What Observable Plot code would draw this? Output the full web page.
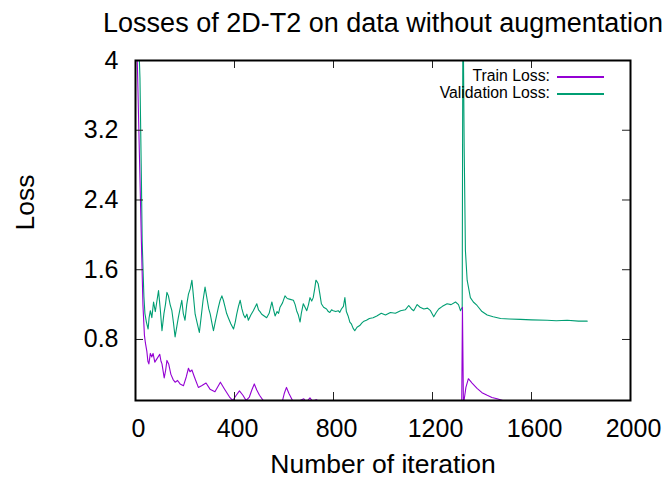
<!DOCTYPE html>
<html>
<head>
<meta charset="utf-8">
<script src="https://cdn.jsdelivr.net/npm/d3@7"></script>
<script src="https://cdn.jsdelivr.net/npm/@observablehq/plot@0.6"></script>
<style>
  body { margin: 0; background: #fff; }
  #wrap { position: relative; width: 669px; height: 485px; font-family: "Liberation Sans", Arial, sans-serif; }
  #legend { position: absolute; left: 0; top: 0; width: 669px; height: 0; }
  .lg { position: absolute; right: 119px; font-size: 15.8px; color: #000; line-height: 16px; white-space: nowrap; }
  .sw { position: absolute; left: 557px; width: 47px; height: 1.5px; }
</style>
</head>
<body>
<div id="wrap"></div>
<script>
const titleText = "Losses of 2D-T2 on data without augmentation";
const xLabel = "Number of iteration";
const yLabel = "Loss";
const xTicks = [0, 400, 800, 1200, 1600, 2000];
const yTicks = [0.8, 1.6, 2.4, 3.2, 4];
const seriesNames = ["Train Loss:", "Validation Loss:"];
const seriesColors = ["#9400d3", "#009e73"];

const trainIter = [0,8,16,24,30,36,40,46,50,54,60,66,71,78,87,98,103,107,116,122,127,134,143,152,160,170,180,194,205,214,220,228,238,254,267,285,301,321,343,360,380,393,407,420,434,447,460,470,480,490,501,521,560,594,601,610,620,638,665,680,690,705,715,730,760,800,870,875,1000,1318,1321,1325,1335,1345,1360,1380,1400,1421,1440,1461,1495,1550,1820];
const trainLoss = [4.7,3.9,2.9,1.9,1.2,0.85,0.76,0.66,0.55,0.52,0.64,0.6,0.64,0.54,0.58,0.63,0.55,0.52,0.36,0.45,0.56,0.52,0.40,0.34,0.31,0.33,0.29,0.27,0.37,0.47,0.43,0.45,0.37,0.25,0.27,0.30,0.23,0.20,0.31,0.23,0.14,0.10,0.16,0.21,0.16,0.10,0.14,0.22,0.29,0.22,0.16,0.08,0.06,0.1,0.18,0.25,0.18,0.08,0.1,0.12,0.08,0.13,0.09,0.11,0.06,0.05,0.08,0.05,0.04,0.03,1.17,0.05,0.25,0.35,0.30,0.24,0.19,0.16,0.135,0.12,0.09,0.07,0.04];

const valIter = [0,10,18,24,27,31,34,38,44,51,55,60,66,73,80,87,93,100,107,115,121,127,133,140,147,153,160,167,173,180,187,193,200,207,214,221,228,234,241,250,258,265,273,281,290,296,302,308,315,322,328,335,342,349,355,362,368,375,385,396,403,409,416,423,430,437,443,450,456,466,476,483,490,497,503,510,520,530,540,551,557,564,572,578,584,594,604,613,625,638,645,651,658,665,670,678,685,692,699,705,712,718,724,729,734,738,745,751,760,772,779,785,792,799,809,819,825,832,840,846,852,859,866,872,879,886,895,906,915,923,933,945,960,975,993,1010,1030,1050,1071,1090,1104,1115,1124,1138,1150,1165,1180,1192,1205,1215,1225,1240,1259,1275,1293,1305,1313,1320,1323,1328,1333,1340,1353,1365,1380,1400,1421,1445,1475,1510,1555,1600,1663,1700,1744,1790,1825];
const valLoss = [5.0,4.5,3.8,2.6,1.93,1.55,1.29,1.1,1.0,0.92,1.05,1.13,1.05,1.23,1.12,1.25,1.36,1.15,0.90,1.1,1.2,1.34,1.3,1.2,1.13,1.0,0.83,0.95,1.05,1.15,1.25,1.1,1.02,1.2,1.32,1.38,1.48,1.3,1.09,0.98,0.88,1.05,1.25,1.40,1.25,1.15,1.09,1.0,0.90,1.0,1.08,1.17,1.25,1.30,1.25,1.17,1.1,1.05,0.98,0.92,1.0,1.09,1.18,1.25,1.15,1.08,1.05,1.09,1.02,1.08,1.13,1.17,1.21,1.14,1.12,1.09,1.07,1.05,1.1,1.23,1.15,1.07,1.12,1.1,1.17,1.22,1.30,1.27,1.26,1.25,1.2,1.13,1.08,1.0,1.1,1.21,1.17,1.13,1.2,1.28,1.24,1.28,1.38,1.48,1.46,1.44,1.32,1.21,1.17,1.15,1.12,1.11,1.14,1.13,1.12,1.13,1.11,1.15,1.18,1.28,1.12,1.07,1.0,0.98,0.93,0.90,0.94,0.96,0.99,1.01,1.02,1.04,1.05,1.07,1.10,1.08,1.11,1.10,1.13,1.14,1.19,1.15,1.13,1.20,1.17,1.15,1.16,1.13,1.06,1.11,1.15,1.18,1.21,1.20,1.23,1.2,1.13,1.17,4.8,3.0,1.82,1.48,1.28,1.23,1.19,1.12,1.08,1.06,1.04,1.035,1.03,1.025,1.02,1.015,1.02,1.01,1.01];

const train = trainIter.map((x, i) => ({x, y: trainLoss[i]}));
const val = valIter.map((x, i) => ({x, y: valLoss[i]}));

const W = 669, H = 485, mL = 135, mR = 39, mT = 60, mB = 85;
const fw = W - mL - mR, fh = H - mT - mB;
const font = "'Liberation Sans', Arial, sans-serif";

const chart = Plot.plot({
  width: W, height: H,
  marginLeft: mL, marginRight: mR, marginTop: mT, marginBottom: mB,
  style: {fontFamily: font, background: "#fff", color: "#000"},
  x: {domain: [0, 2000]},
  y: {domain: [0.1, 4]},
  marks: [
    Plot.line(val, {x: "x", y: "y", stroke: seriesColors[1], strokeWidth: 1.1, clip: true}),
    Plot.line(train, {x: "x", y: "y", stroke: seriesColors[0], strokeWidth: 1.1, clip: true}),
    Plot.tickX(xTicks.slice(1, -1), {x: d => d, insetTop: fh - 8, stroke: "#222", strokeWidth: 1}),
    Plot.tickX(xTicks.slice(1, -1), {x: d => d, insetBottom: fh - 8, stroke: "#222", strokeWidth: 1}),
    Plot.tickY(yTicks.slice(0, -1), {y: d => d, insetRight: fw - 8, stroke: "#222", strokeWidth: 1}),
    Plot.tickY(yTicks.slice(0, -1), {y: d => d, insetLeft: fw - 8, stroke: "#222", strokeWidth: 1}),
    Plot.frame({stroke: "#000", strokeWidth: 2}),
    Plot.axisX(xTicks, {tickSize: 0, tickPadding: 19, fontSize: 25, dx: 3, label: null, tickFormat: d => String(d)}),
    Plot.axisY(yTicks, {tickSize: 0, tickPadding: 17, fontSize: 25, label: null, tickFormat: d => String(d)}),
    Plot.text([titleText], {frameAnchor: "top", dy: -48, fontSize: 27, fill: "#000"}),
    Plot.text([xLabel], {frameAnchor: "bottom", dy: 72, fontSize: 26.5, fill: "#000"}),
    Plot.text([yLabel], {frameAnchor: "left", dx: -110, rotate: -90, fontSize: 26.5, fill: "#000"})
  ]
});

const wrap = document.getElementById("wrap");
wrap.appendChild(chart);
const legend = document.createElement("div");
legend.id = "legend";
seriesNames.forEach((name, i) => {
  const t = document.createElement("div");
  t.className = "lg";
  t.style.top = (68 + i * 17) + "px";
  t.textContent = name;
  legend.appendChild(t);
  const s = document.createElement("div");
  s.className = "sw";
  s.style.top = (76 + i * 17) + "px";
  s.style.background = seriesColors[i];
  legend.appendChild(s);
});
wrap.appendChild(legend);
</script>
</body>
</html>
